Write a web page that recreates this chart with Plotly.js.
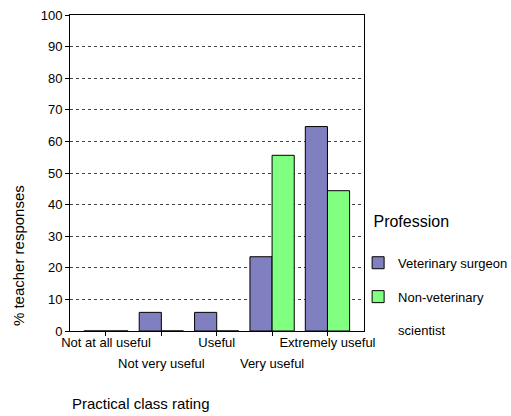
<!DOCTYPE html>
<html>
<head>
<meta charset="utf-8">
<script src="https://cdn.plot.ly/plotly-3.0.1.min.js"></script>
<style>html,body{margin:0;padding:0;background:#fff}#chart{width:511px;height:416px}</style>
</head>
<body>
<div id="chart"></div>
<script>
const categories = ["Not at all useful", "Not very useful", "Useful", "Very useful", "Extremely useful"];
const catIndex = [0, 1, 2, 3, 4];
const vetSurgeon = [0, 5.9, 5.9, 23.5, 64.7];
const nonVetScientist = [0, 0, 0, 55.6, 44.4];
const seriesNames = ["Veterinary surgeon", "Non-veterinary<br>\u00a0<br>scientist"];
const legendTitle = "\u00a0\u00a0\u00a0Profession<br>\u00a0";
const yTicks = [0, 10, 20, 30, 40, 50, 60, 70, 80, 90, 100];

const FONT = "Liberation Sans, Arial, sans-serif";

const lowerIdx = catIndex.filter(i => i % 2 === 1);

const traces = [
  {type: "bar", x: catIndex, y: vetSurgeon, name: seriesNames[0], legendgroup: "a",
   marker: {color: "#8080c0", line: {color: "#000", width: 1}}},
  {type: "bar", x: catIndex, y: nonVetScientist, name: seriesNames[1], legendgroup: "b",
   marker: {color: "#80ff80", line: {color: "#000", width: 1}}},
  // carrier for the second row of category labels (no visible marks)
  {type: "scatter", mode: "none", x: lowerIdx, y: lowerIdx.map(() => null),
   xaxis: "x2", yaxis: "y", showlegend: false, hoverinfo: "skip"}
];

const layout = {
  width: 511, height: 416,
  margin: {l: 70, r: 147, t: 15, b: 85, autoexpand: false},
  paper_bgcolor: "#fff", plot_bgcolor: "#fff",
  font: {family: FONT, size: 13, color: "#000"},
  barmode: "group", bargap: 0.2, bargroupgap: 0,
  showlegend: true,
  legend: {
    x: 0.98, xanchor: "left", y: 0.395, yanchor: "top",
    title: {text: legendTitle, font: {size: 16}},
    font: {size: 13}, valign: "top",
    traceorder: "grouped", tracegroupgap: 14,
    bgcolor: "rgba(0,0,0,0)"
  },
  xaxis: {
    range: [-0.65, 4.66], tickmode: "array", tickvals: catIndex,
    ticktext: catIndex.map(i => i % 2 === 0 ? categories[i] : ""),
    ticks: "outside", ticklen: 4, tickcolor: "#000", ticklabelstandoff: -5,
    showline: true, linecolor: "#000", linewidth: 1, mirror: true,
    showgrid: false, zeroline: false, tickfont: {size: 13}
  },
  xaxis2: {
    overlaying: "x", anchor: "y", side: "bottom",
    range: [-0.65, 4.66], tickmode: "array", tickvals: lowerIdx,
    ticktext: lowerIdx.map(i => categories[i]),
    ticks: "", showline: false, showgrid: false, zeroline: false,
    ticklabelstandoff: 23, tickfont: {size: 13}
  },
  yaxis: {
    range: [0, 100], tickmode: "array", tickvals: yTicks,
    ticks: "outside", ticklen: 4, tickcolor: "#000",
    showline: true, linecolor: "#000", linewidth: 1, mirror: true,
    showgrid: true, gridcolor: "#444", griddash: "dot", gridwidth: 1,
    zeroline: false, tickfont: {size: 13}
  },
  annotations: [
    {text: "% teacher responses", xref: "paper", yref: "paper",
     x: -0.177, y: 0.24, xanchor: "center", yanchor: "middle", textangle: -90,
     showarrow: false, font: {size: 15}},
    {text: "Practical class rating", xref: "paper", yref: "paper",
     x: 0.0, y: -0.23, xanchor: "left", yanchor: "middle",
     showarrow: false, font: {size: 15}}
  ]
};

Plotly.newPlot("chart", traces, layout, {displayModeBar: false, staticPlot: true});
</script>
</body>
</html>
